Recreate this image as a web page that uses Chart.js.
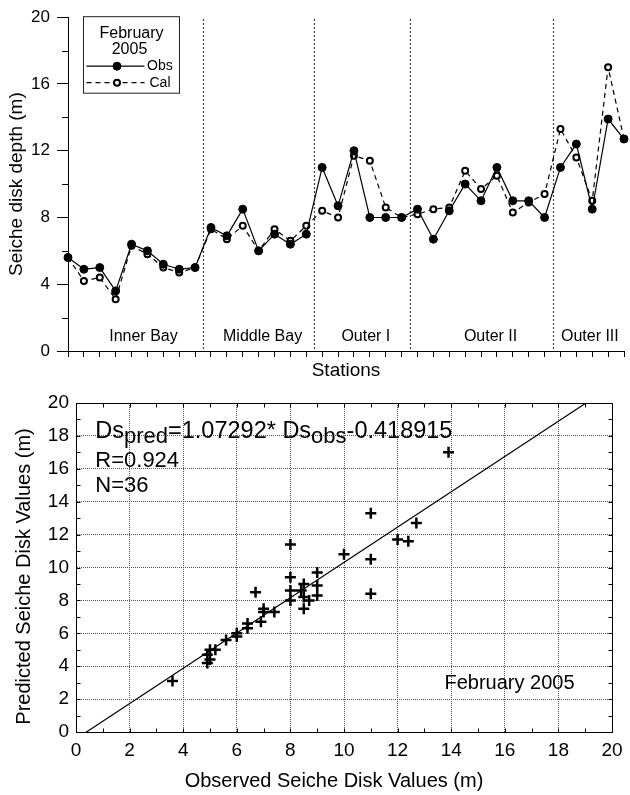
<!DOCTYPE html>
<html>
<head>
<meta charset="utf-8">
<title>Seiche disk depth, February 2005</title>
<script src="https://cdn.jsdelivr.net/npm/chart.js@4.4.1/dist/chart.umd.min.js"></script>
<style>
  html, body { margin: 0; padding: 0; background: #fff; }
  #wrap { position: relative; width: 630px; height: 795px; }
  #stations-chart { position: absolute; left: 0; top: 0; }
  #scatter-chart { position: absolute; left: 0; top: 380px; }
</style>
</head>
<body>
<div id="wrap">
  <canvas id="stations-chart" width="630" height="380"></canvas>
  <canvas id="scatter-chart" width="630" height="415"></canvas>
</div>
<script>
// stations along the bay (index on the x axis)
const stations = [0, 1, 2, 3, 4, 5, 6, 7, 8, 9, 10, 11, 12, 13, 14, 15, 16, 17,
                  18, 19, 20, 21, 22, 23, 24, 25, 26, 27, 28, 29, 30, 31, 32, 33, 34, 35];
// observed seiche disk depth (m)
const obsDepth = [5.6, 4.9, 5.0, 3.6, 6.4, 6.0, 5.2, 4.9, 5.0,
                  7.4, 6.9, 8.5, 6.0, 7.0, 6.4, 7.0,
                  11.0, 8.7, 12.0, 8.0, 8.0, 8.0,
                  8.5, 6.7, 8.4, 10.0, 9.0, 11.0, 9.0, 9.0, 8.0,
                  11.0, 12.4, 8.5, 13.9, 12.7];
// calculated (predicted) seiche disk depth (m)
const calDepth = [5.6, 4.2, 4.4, 3.1, 6.3, 5.8, 5.0, 4.7, 5.0,
                  7.3, 6.7, 7.5, 6.0, 7.3, 6.6, 7.5,
                  8.4, 8.0, 11.7, 11.4, 8.6, 8.0,
                  8.2, 8.5, 8.6, 10.8, 9.7, 10.5, 8.3, 8.9, 9.4,
                  13.3, 11.6, 9.0, 17.0, 12.7];

const regionNames = ['Inner Bay', 'Middle Bay', 'Outer I', 'Outer II', 'Outer III'];
const regionBreaks = [8.5, 15.5, 21.5, 30.5];
const regionLabelAt = [4.75, 12.25, 18.75, 26.6, 32.85];
const depthMinorTicks = [2, 6, 10, 14, 18];

// regression from the paper
const fitSlope = 1.07292;
const fitIntercept = -0.418915;
const fitR = 0.924;
const monthLabel = 'February 2005';

const family = "'Liberation Sans', Arial, Helvetica, sans-serif";
Chart.defaults.font.family = family;
Chart.defaults.color = '#000';

function dot(ctx, x, y, r, fill, lw) {
    ctx.beginPath();
    ctx.arc(x, y, r, 0, Math.PI * 2);
    ctx.fillStyle = fill;
    ctx.fill();
    if (lw) {
        ctx.lineWidth = lw;
        ctx.strokeStyle = '#000';
        ctx.stroke();
    }
}

// dividers, minor ticks, region names and the boxed legend
const topDecor = {
    id: 'topDecor',
    beforeDatasetsDraw(chart) {
        const {ctx, chartArea: a, scales: {x, y}} = chart;
        ctx.save();
        ctx.strokeStyle = '#000';
        ctx.lineWidth = 1.2;
        ctx.setLineDash([1.5, 2.5]);
        regionBreaks.forEach(b => {
            const px = Math.round(x.getPixelForValue(b)) + 0.5;
            ctx.beginPath();
            ctx.moveTo(px, a.top + 2);
            ctx.lineTo(px, a.bottom);
            ctx.stroke();
        });
        ctx.setLineDash([]);
        ctx.lineWidth = 1;
        depthMinorTicks.forEach(v => {
            const py = Math.round(y.getPixelForValue(v)) + 0.5;
            ctx.beginPath();
            ctx.moveTo(a.left - 6, py);
            ctx.lineTo(a.left, py);
            ctx.stroke();
        });
        ctx.fillStyle = '#000';
        ctx.font = '16px ' + family;
        ctx.textAlign = 'center';
        ctx.textBaseline = 'alphabetic';
        regionNames.forEach((n, i) => {
            ctx.fillText(n, x.getPixelForValue(regionLabelAt[i]), a.bottom - 10.5);
        });
        ctx.restore();
    },
    afterDatasetsDraw(chart) {
        const {ctx, chartArea: a} = chart;
        const L = a.left + 15.5, T = a.top - 0.5, W = 96, H = 76.5;
        ctx.save();
        ctx.fillStyle = '#fff';
        ctx.fillRect(L, T, W, H);
        ctx.strokeStyle = '#222';
        ctx.lineWidth = 1;
        ctx.strokeRect(L, T, W, H);
        const [month, year] = monthLabel.split(' ');
        ctx.fillStyle = '#000';
        ctx.font = '16px ' + family;
        ctx.textAlign = 'center';
        ctx.textBaseline = 'alphabetic';
        ctx.fillText(month, L + 48, T + 21.5);
        ctx.fillText(year, L + 46, T + 37.5);
        const rows = [{ds: 0, y: T + 49.5, tx: L + 63.5}, {ds: 1, y: T + 66, tx: L + 66}];
        ctx.font = '14px ' + family;
        ctx.textAlign = 'left';
        ctx.textBaseline = 'middle';
        rows.forEach(r => {
            const d = chart.data.datasets[r.ds];
            ctx.strokeStyle = '#000';
            ctx.lineWidth = d.borderWidth;
            ctx.setLineDash(d.borderDash || []);
            ctx.beginPath();
            ctx.moveTo(L + 3, r.y);
            ctx.lineTo(L + 61, r.y);
            ctx.stroke();
            ctx.setLineDash([]);
            dot(ctx, L + 33.5, r.y, d.pointRadius, d.pointBackgroundColor, d.pointBorderWidth);
            ctx.fillStyle = '#000';
            ctx.fillText(d.label, r.tx, r.y);
        });
        ctx.restore();
    }
};

new Chart(document.getElementById('stations-chart'), {
    type: 'line',
    data: {
        datasets: [{
            label: 'Obs',
            data: stations.map((s, i) => ({x: s, y: obsDepth[i]})),
            borderColor: '#000',
            borderWidth: 1.2,
            pointRadius: 4,
            pointBorderWidth: 1,
            pointBackgroundColor: '#000',
            pointBorderColor: '#000',
            tension: 0,
            clip: false
        }, {
            label: 'Cal',
            data: stations.map((s, i) => ({x: s, y: calDepth[i]})),
            borderColor: '#000',
            borderWidth: 1.2,
            borderDash: [5, 4],
            pointRadius: 3,
            pointBorderWidth: 2,
            pointBackgroundColor: '#fff',
            pointBorderColor: '#000',
            tension: 0,
            clip: false
        }]
    },
    options: {
        responsive: false,
        animation: false,
        layout: {padding: {top: 15, right: 1, left: 0, bottom: 0}},
        plugins: {legend: {display: false}, tooltip: {enabled: false}},
        scales: {
            x: {
                type: 'linear',
                min: 0,
                max: 35,
                afterFit: (s) => { s.height = 29; },
                ticks: {display: false, stepSize: 1, autoSkip: false, maxTicksLimit: 100},
                grid: {drawOnChartArea: false, drawTicks: true, tickLength: 6, tickColor: '#000'},
                border: {display: true, color: '#000', width: 1},
                title: {
                    display: true,
                    text: 'Stations',
                    font: {size: 19, lineHeight: 1},
                    padding: {top: 0, bottom: 0}
                }
            },
            y: {
                min: 0,
                max: 20,
                afterFit: (s) => { s.width = 68; },
                ticks: {stepSize: 4, padding: 7, font: {size: 17}},
                grid: {drawOnChartArea: false, drawTicks: true, tickLength: 11, tickColor: '#000'},
                border: {display: true, color: '#000', width: 1},
                title: {
                    display: true,
                    text: 'Seiche disk depth (m)',
                    font: {size: 19, lineHeight: 1},
                    padding: {top: 7, bottom: 0}
                }
            }
        }
    },
    plugins: [topDecor]
});

// frame, inner unit ticks, axis titles and the regression text
const scatterDecor = {
    id: 'scatterDecor',
    afterDatasetsDraw(chart) {
        const {ctx, chartArea: a, scales: {x, y}} = chart;
        ctx.save();
        ctx.strokeStyle = '#000';
        ctx.lineWidth = 1;
        const top = Math.round(a.top) + 0.5, right = Math.round(a.right) + 0.5;
        const bottom = Math.round(a.bottom) + 0.5, left = Math.round(a.left) + 0.5;
        ctx.beginPath();
        ctx.moveTo(left, top);
        ctx.lineTo(right, top);
        ctx.lineTo(right, bottom);
        ctx.stroke();
        ctx.beginPath();
        for (let v = 1; v < 20; v++) {
            const px = Math.round(x.getPixelForValue(v)) + 0.5;
            const py = Math.round(y.getPixelForValue(v)) + 0.5;
            ctx.moveTo(px, bottom); ctx.lineTo(px, bottom - 4);
            ctx.moveTo(px, top); ctx.lineTo(px, top + 4);
            ctx.moveTo(left, py); ctx.lineTo(left + 4, py);
            ctx.moveTo(right, py); ctx.lineTo(right - 4, py);
        }
        ctx.stroke();

        ctx.fillStyle = '#000';
        // axis titles sit a little off the plot centre in the original
        ctx.font = '20px ' + family;
        ctx.textAlign = 'center';
        ctx.textBaseline = 'middle';
        ctx.fillText('Observed Seiche Disk Values (m)', (a.left + a.right) / 2 - 10, chart.height - 14);
        ctx.save();
        ctx.translate(24, (a.top + a.bottom) / 2 + 9);
        ctx.rotate(-Math.PI / 2);
        ctx.fillText('Predicted Seiche Disk Values (m)', 0, 0);
        ctx.restore();

        ctx.textAlign = 'left';
        ctx.textBaseline = 'alphabetic';
        const main = '23.5px ' + family, sub = '22px ' + family;
        const parts = [
            ['Ds', main, 0], ['pred', sub, 5],
            ['=' + fitSlope + '* Ds', main, 0], ['obs', sub, 5],
            [String(fitIntercept), main, 0]
        ];
        let tx = x.getPixelForValue(0.72);
        const ty = y.getPixelForValue(17.85);
        parts.forEach(([t, f, dy]) => {
            ctx.font = f;
            ctx.fillText(t, tx, ty + dy);
            tx += ctx.measureText(t).width;
        });
        ctx.font = '22px ' + family;
        ctx.fillText('R=' + fitR, x.getPixelForValue(0.72), y.getPixelForValue(16.09));
        ctx.fillText('N=' + obsDepth.length, x.getPixelForValue(0.72), y.getPixelForValue(14.6));
        ctx.font = '20px ' + family;
        ctx.fillText(monthLabel, x.getPixelForValue(13.75), y.getPixelForValue(2.61));
        ctx.restore();
    }
};

new Chart(document.getElementById('scatter-chart'), {
    type: 'scatter',
    data: {
        datasets: [{
            data: obsDepth.map((o, i) => ({x: o, y: calDepth[i]})),
            pointStyle: 'cross',
            pointRadius: 5.5,
            pointBorderWidth: 2.5,
            borderColor: '#000',
            backgroundColor: '#000'
        }, {
            type: 'line',
            data: [{x: 0, y: fitIntercept}, {x: 20, y: fitSlope * 20 + fitIntercept}],
            borderColor: '#000',
            borderWidth: 1.2,
            pointRadius: 0,
            showLine: true,
            fill: false
        }]
    },
    options: {
        responsive: false,
        animation: false,
        layout: {padding: {top: 23, right: 18, left: 0, bottom: 0}},
        plugins: {legend: {display: false}, tooltip: {enabled: false}},
        scales: {
            x: {
                type: 'linear',
                min: 0,
                max: 20,
                afterFit: (s) => { s.height = 63; },
                ticks: {stepSize: 2, padding: 7, autoSkip: false, maxRotation: 0, font: {size: 19}},
                grid: {color: '#555', lineWidth: 1, drawTicks: false},
                border: {display: true, color: '#000', width: 1, dash: [1, 1]}
            },
            y: {
                min: 0,
                max: 20,
                afterFit: (s) => { s.width = 76; },
                ticks: {stepSize: 2, padding: 7, font: {size: 19}},
                grid: {color: '#555', lineWidth: 1, drawTicks: false},
                border: {display: true, color: '#000', width: 1, dash: [1, 1]}
            }
        }
    },
    plugins: [scatterDecor]
});
</script>
</body>
</html>
